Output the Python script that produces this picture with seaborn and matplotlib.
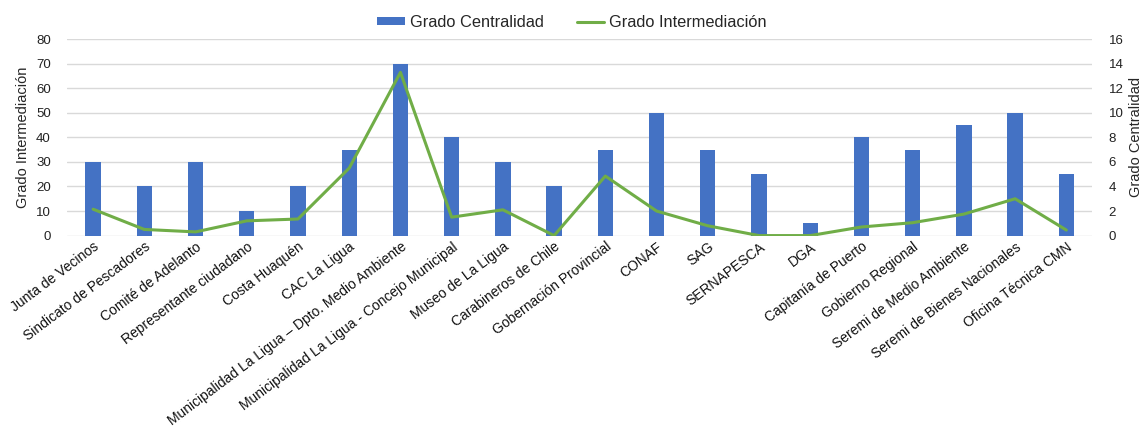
import numpy as np
import pandas as pd
import seaborn as sns
import matplotlib.pyplot as plt
from matplotlib.patches import Patch
from matplotlib.lines import Line2D

# data
actores = ['Junta de Vecinos', 'Sindicato de Pescadores', 'Comité de Adelanto',
           'Representante ciudadano', 'Costa Huaquén', 'CAC La Ligua',
           'Municipalidad La Ligua – Dpto. Medio Ambiente',
           'Municipalidad La Ligua - Concejo Municipal', 'Museo de La Ligua',
           'Carabineros de Chile', 'Gobernación Provincial', 'CONAF', 'SAG',
           'SERNAPESCA', 'DGA', 'Capitanía de Puerto', 'Gobierno Regional',
           'Seremi de Medio Ambiente', 'Seremi de Bienes Nacionales',
           'Oficina Técnica CMN']
grado_centralidad = [30, 20, 30, 10, 20, 35, 70, 40, 30, 20, 35, 50, 35, 25, 5, 40, 35, 45, 50, 25]
grado_intermediacion = [2.15, 0.5, 0.3, 1.2, 1.35, 5.5, 13.3, 1.5, 2.1, 0.0, 4.85, 2.0, 0.8,
                        0.0, 0.0, 0.7, 1.05, 1.75, 3.0, 0.45]

df = pd.DataFrame({'actor': actores,
                   'centralidad': grado_centralidad,
                   'intermediacion': grado_intermediacion})

bar_color = '#4472C4'
line_color = '#70AD47'
grid_color = '#D9D9D9'

sns.set_theme(style='white')
plt.rcParams['font.family'] = ['Liberation Sans', 'DejaVu Sans']

fig = plt.figure(figsize=(11.44, 4.26), dpi=100)
ax = fig.add_axes([0.059, 0.447, 0.8955, 0.461])

sns.barplot(data=df, x='actor', y='centralidad', color=bar_color, width=0.3,
            saturation=1, linewidth=0, ax=ax, zorder=2)
ax.set_ylim(0, 80)
ax.set_yticks(np.arange(0, 81, 10))
ax.set_xlim(-0.5, len(actores) - 0.5)
ax.yaxis.grid(True, color=grid_color, linewidth=1, zorder=0)
ax.set_axisbelow(True)
for s in ax.spines.values():
    s.set_visible(False)
ax.set_xlabel('')
ax.set_ylabel('Grado Intermediación', fontsize=10.5)
ax.tick_params(axis='y', labelsize=9.5, length=0, pad=12, colors='#222222')
ax.tick_params(axis='x', labelsize=10, length=0, pad=3, colors='#111111')
plt.setp(ax.get_xticklabels(), rotation=37, ha='right', rotation_mode='anchor')

ax2 = ax.twinx()
sns.lineplot(x=np.arange(len(df)), y=df['intermediacion'], color=line_color,
             linewidth=2.2, ax=ax2)
ax2.set_ylim(0, 16)
ax2.set_yticks(np.arange(0, 17, 2))
ax2.set_xlim(-0.5, len(actores) - 0.5)
for s in ax2.spines.values():
    s.set_visible(False)
ax2.set_ylabel('Grado Centralidad', fontsize=10.5)
ax2.tick_params(axis='y', labelsize=9.5, length=0, pad=12, colors='#222222')

handles = [Patch(facecolor=bar_color, edgecolor='none'),
           Line2D([0], [0], color=line_color, linewidth=2.2)]
fig.legend(handles, ['Grado Centralidad', 'Grado Intermediación'], loc='upper center',
           bbox_to_anchor=(0.5, 1.0), ncol=2, frameon=False, fontsize=11.8,
           handlelength=1.7, handleheight=0.45, handletextpad=0.3, columnspacing=2.0)

fig.savefig('out.png', dpi=100)
